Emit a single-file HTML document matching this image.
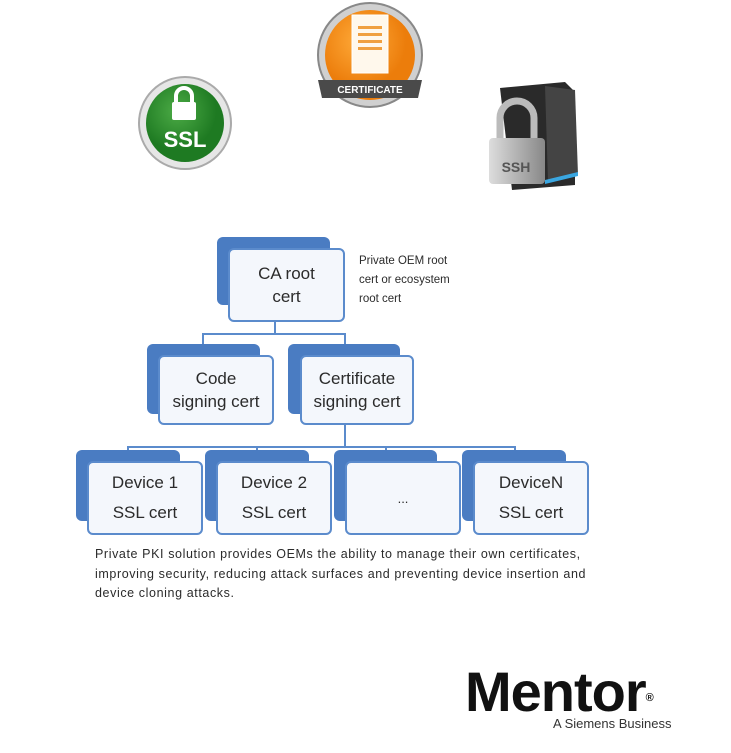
<!DOCTYPE html>
<html><head><style>
body{margin:0;width:731px;height:753px;background:#fff;position:relative;overflow:hidden;font-family:"Liberation Sans",sans-serif;color:#2b2b2b}
.b{position:absolute;background:#4a7cc2;border-radius:6px}
.f{position:absolute;background:#f4f7fc;border:2px solid #5b8bcc;border-radius:6px;box-sizing:border-box;display:flex;flex-direction:column;align-items:center;justify-content:center;font-size:17px;line-height:23px;text-align:center}
.l{position:absolute;background:#5b8bcc}
.t{position:absolute;font-size:11.5px;line-height:19px}
</style></head><body>
<svg width="731" height="210" style="position:absolute;left:0;top:0">
<defs>
<radialGradient id="g" cx="40%" cy="35%"><stop offset="0" stop-color="#4cab46"/><stop offset="1" stop-color="#1e7a22"/></radialGradient>
<radialGradient id="o" cx="40%" cy="35%"><stop offset="0" stop-color="#ffab3a"/><stop offset="1" stop-color="#ec7d0b"/></radialGradient>
<linearGradient id="s" x1="0" x2="1"><stop offset="0" stop-color="#ddd"/><stop offset="1" stop-color="#888"/></linearGradient>
</defs>
<circle cx="185" cy="123" r="46" fill="#e6e6e6" stroke="#aaa" stroke-width="2"/>
<circle cx="185" cy="123" r="39" fill="url(#g)"/>
<rect x="172" y="102" width="24" height="18" rx="2" fill="#fff"/>
<path d="M176 102 v-6 a8 8 0 0 1 16 0 v6" fill="none" stroke="#fff" stroke-width="4"/>
<text x="185" y="147" font-size="22" font-weight="bold" fill="#fff" text-anchor="middle" font-family="Liberation Sans">SSL</text>
<circle cx="370" cy="55" r="52" fill="#d0d0d0" stroke="#888" stroke-width="2"/>
<circle cx="370" cy="55" r="45" fill="url(#o)"/>
<rect x="352" y="15" width="36" height="58" fill="#fff8ec" stroke="#fff" />
<rect x="358" y="26" width="24" height="3" fill="#f0a040"/><rect x="358" y="33" width="24" height="3" fill="#f0a040"/><rect x="358" y="40" width="24" height="3" fill="#f0a040"/><rect x="358" y="47" width="24" height="3" fill="#f0a040"/>
<path d="M318 80 L422 80 L418 98 L322 98 Z" fill="#4a4a4a"/>
<text x="370" y="93" font-size="10" fill="#fff" text-anchor="middle" font-family="Liberation Sans" font-weight="bold">CERTIFICATE</text>
<path d="M500 88 L565 82 L575 92 L575 185 L512 190 Z" fill="#2a2a2a"/>
<path d="M545 86 L575 90 L578 175 L548 182 Z" fill="#444"/>
<path d="M545 180 L578 172 L578 176 L545 184Z" fill="#3aa6e0"/>
<path d="M500 140 v-22 a17 17 0 0 1 34 0 v22" fill="none" stroke="#bbb" stroke-width="7"/>
<rect x="489" y="138" width="56" height="46" rx="4" fill="url(#s)"/>
<text x="516" y="172" font-size="14" font-weight="bold" fill="#555" text-anchor="middle" font-family="Liberation Sans">SSH</text>
</svg>
<div class="l" style="left:274px;top:320px;width:2px;height:14px"></div>
<div class="l" style="left:202px;top:333px;width:144px;height:2px"></div>
<div class="l" style="left:202px;top:333px;width:2px;height:22px"></div>
<div class="l" style="left:344px;top:333px;width:2px;height:22px"></div>
<div class="l" style="left:344px;top:423px;width:2px;height:24px"></div>
<div class="l" style="left:127px;top:446px;width:389px;height:2px"></div>
<div class="l" style="left:127px;top:446px;width:2px;height:16px"></div>
<div class="l" style="left:256px;top:446px;width:2px;height:16px"></div>
<div class="l" style="left:385px;top:446px;width:2px;height:16px"></div>
<div class="l" style="left:514px;top:446px;width:2px;height:16px"></div>
<div class="b" style="left:217px;top:237px;width:113px;height:68px"></div>
<div class="f" style="left:228px;top:248px;width:117px;height:74px">CA root<br>cert</div>
<div class="t" style="left:359px;top:252px">Private OEM root<br>cert or ecosystem<br>root cert</div>
<div class="b" style="left:147px;top:344px;width:113px;height:70px"></div>
<div class="f" style="left:158px;top:355px;width:116px;height:70px">Code<br>signing cert</div>
<div class="b" style="left:288px;top:344px;width:112px;height:70px"></div>
<div class="f" style="left:300px;top:355px;width:114px;height:70px">Certificate<br>signing cert</div>
<div class="b" style="left:76px;top:450px;width:104px;height:71px"></div>
<div class="f" style="left:87px;top:461px;width:116px;height:74px;line-height:30px">Device 1<br>SSL cert</div>
<div class="b" style="left:205px;top:450px;width:104px;height:71px"></div>
<div class="f" style="left:216px;top:461px;width:116px;height:74px;line-height:30px">Device 2<br>SSL cert</div>
<div class="b" style="left:334px;top:450px;width:103px;height:71px"></div>
<div class="f" style="left:345px;top:461px;width:116px;height:74px;font-size:13px">...</div>
<div class="b" style="left:462px;top:450px;width:104px;height:71px"></div>
<div class="f" style="left:473px;top:461px;width:116px;height:74px;line-height:30px">DeviceN<br>SSL cert</div>
<div class="t" style="left:95px;top:545px;white-space:nowrap;font-size:12.5px;line-height:19.5px;letter-spacing:0.6px">Private PKI solution provides OEMs the ability to manage their own certificates,<br>improving security, reducing attack surfaces and preventing device insertion and<br>device cloning attacks.</div>
<div style="position:absolute;left:465px;top:662px;font-size:56px;font-weight:bold;letter-spacing:-1px;color:#111;line-height:60px">Mentor<span style="font-size:11px;vertical-align:top;letter-spacing:0;position:relative;top:6px">®</span></div>
<div style="position:absolute;left:553px;top:716px;font-size:13px;color:#333">A Siemens Business</div>
</body></html>
